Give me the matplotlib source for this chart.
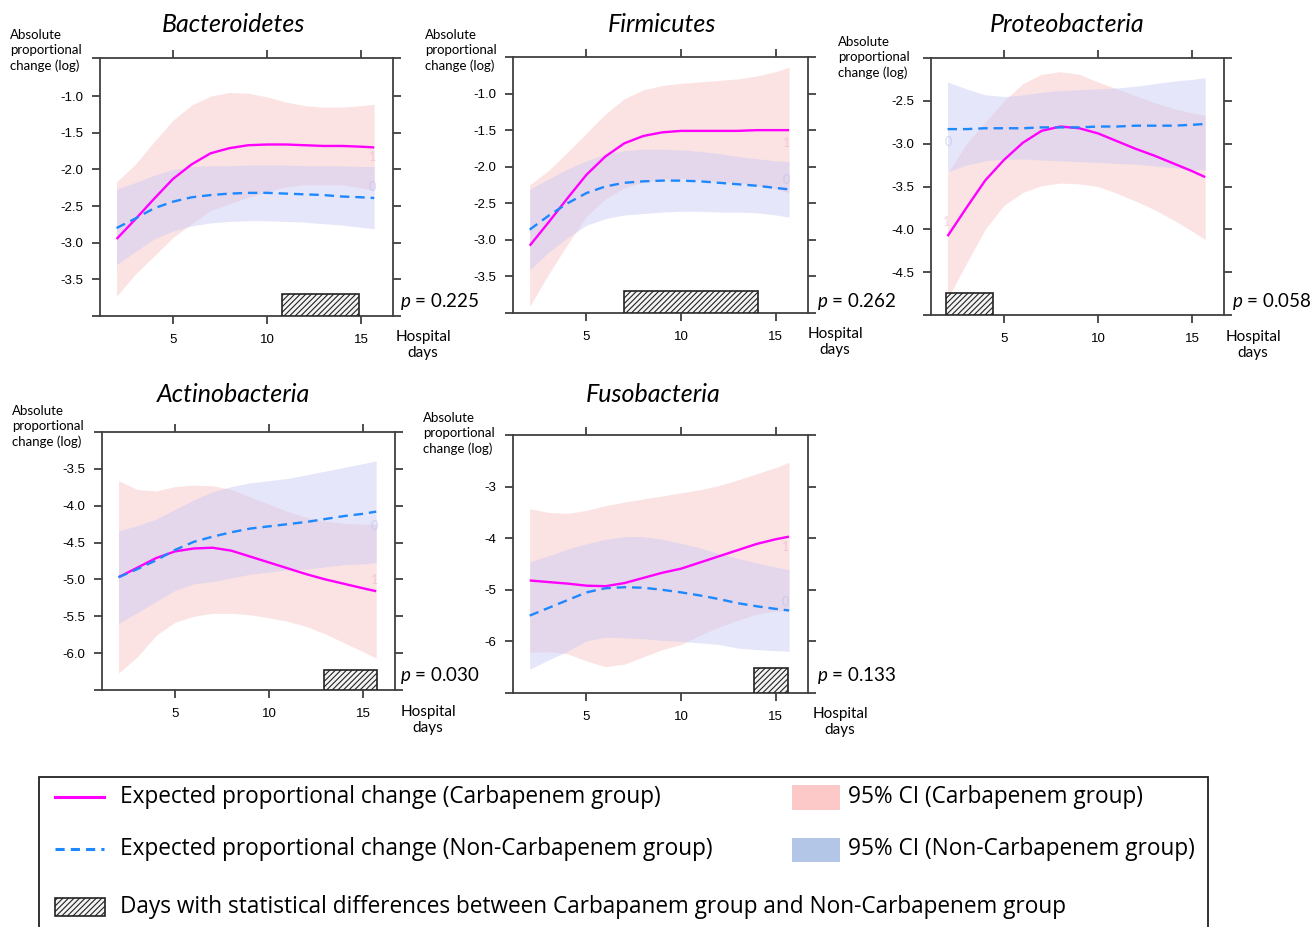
import numpy as np
import matplotlib
matplotlib.use("Agg")
import matplotlib.pyplot as plt
from matplotlib.lines import Line2D
from matplotlib.patches import Rectangle
import matplotlib.transforms as mtransforms

plt.rcParams['font.family'] = ['Lato', 'DejaVu Sans']
plt.rcParams['mathtext.fontset'] = 'custom'
plt.rcParams['mathtext.it'] = 'Lato:italic'
plt.rcParams['mathtext.rm'] = 'Lato'
plt.rcParams['hatch.linewidth'] = 0.8

W, H = 1312, 927

days = [2, 3, 4, 5, 6, 7, 8, 9, 10, 11, 12, 13, 14, 15, 15.7]

# Bacteroidetes
bac_carb = [-2.95, -2.68, -2.40, -2.13, -1.93, -1.78, -1.71, -1.67, -1.66, -1.66, -1.67, -1.68, -1.68, -1.69, -1.70]
bac_carb_hi = [-2.17, -1.93, -1.62, -1.33, -1.12, -1.00, -0.95, -0.96, -1.01, -1.08, -1.13, -1.15, -1.15, -1.13, -1.11]
bac_carb_lo = [-3.73, -3.43, -3.18, -2.93, -2.74, -2.56, -2.47, -2.38, -2.31, -2.24, -2.21, -2.21, -2.21, -2.25, -2.29]
bac_non = [-2.80, -2.67, -2.53, -2.44, -2.38, -2.35, -2.33, -2.32, -2.32, -2.33, -2.34, -2.35, -2.37, -2.38, -2.39]
bac_non_hi = [-2.27, -2.18, -2.08, -2.00, -1.96, -1.95, -1.95, -1.94, -1.94, -1.94, -1.95, -1.95, -1.95, -1.96, -1.96]
bac_non_lo = [-3.30, -3.12, -2.95, -2.84, -2.77, -2.73, -2.71, -2.70, -2.70, -2.71, -2.72, -2.74, -2.76, -2.79, -2.81]

# Firmicutes
fir_carb = [-3.08, -2.76, -2.43, -2.11, -1.86, -1.68, -1.58, -1.53, -1.51, -1.51, -1.51, -1.51, -1.50, -1.50, -1.50]
fir_carb_hi = [-2.25, -2.05, -1.80, -1.54, -1.28, -1.07, -0.95, -0.89, -0.86, -0.84, -0.82, -0.80, -0.76, -0.70, -0.64]
fir_carb_lo = [-3.91, -3.47, -3.06, -2.68, -2.44, -2.29, -2.21, -2.17, -2.16, -2.18, -2.20, -2.22, -2.26, -2.30, -2.36]
fir_non = [-2.86, -2.67, -2.50, -2.36, -2.27, -2.22, -2.20, -2.19, -2.19, -2.20, -2.22, -2.24, -2.26, -2.29, -2.31]
fir_non_hi = [-2.31, -2.17, -2.03, -1.92, -1.83, -1.78, -1.76, -1.76, -1.77, -1.79, -1.82, -1.86, -1.89, -1.92, -1.93]
fir_non_lo = [-3.41, -3.17, -2.97, -2.80, -2.71, -2.66, -2.64, -2.62, -2.61, -2.61, -2.62, -2.62, -2.63, -2.66, -2.69]

# Proteobacteria
pro_carb = [-4.08, -3.75, -3.43, -3.19, -2.99, -2.85, -2.80, -2.82, -2.88, -2.97, -3.06, -3.14, -3.23, -3.32, -3.39]
pro_carb_hi = [-3.35, -3.00, -2.75, -2.50, -2.30, -2.19, -2.16, -2.19, -2.28, -2.36, -2.44, -2.52, -2.59, -2.64, -2.67]
pro_carb_lo = [-4.81, -4.40, -4.00, -3.72, -3.57, -3.49, -3.46, -3.47, -3.50, -3.58, -3.67, -3.77, -3.89, -4.02, -4.12]
pro_non = [-2.83, -2.83, -2.82, -2.82, -2.82, -2.81, -2.81, -2.81, -2.80, -2.80, -2.79, -2.79, -2.79, -2.78, -2.77]
pro_non_hi = [-2.28, -2.36, -2.43, -2.45, -2.43, -2.40, -2.38, -2.37, -2.36, -2.35, -2.33, -2.30, -2.27, -2.25, -2.23]
pro_non_lo = [-3.33, -3.25, -3.20, -3.18, -3.18, -3.19, -3.20, -3.21, -3.22, -3.23, -3.24, -3.26, -3.28, -3.30, -3.31]

# Actinobacteria
act_carb = [-4.97, -4.84, -4.71, -4.62, -4.58, -4.57, -4.61, -4.69, -4.77, -4.85, -4.93, -5.00, -5.06, -5.12, -5.16]
act_carb_hi = [-3.66, -3.78, -3.80, -3.74, -3.72, -3.73, -3.78, -3.88, -3.98, -4.08, -4.16, -4.21, -4.24, -4.25, -4.25]
act_carb_lo = [-6.27, -6.05, -5.76, -5.58, -5.50, -5.46, -5.46, -5.48, -5.52, -5.57, -5.64, -5.74, -5.86, -5.98, -6.07]
act_non = [-4.97, -4.86, -4.74, -4.60, -4.49, -4.42, -4.36, -4.31, -4.28, -4.25, -4.22, -4.18, -4.14, -4.11, -4.08]
act_non_hi = [-4.34, -4.27, -4.18, -4.05, -3.92, -3.81, -3.74, -3.69, -3.66, -3.63, -3.58, -3.53, -3.48, -3.43, -3.39]
act_non_lo = [-5.60, -5.45, -5.30, -5.15, -5.06, -5.03, -4.98, -4.93, -4.90, -4.87, -4.86, -4.83, -4.80, -4.79, -4.77]

# Fusobacteria
fus_carb = [-4.82, -4.85, -4.88, -4.92, -4.93, -4.87, -4.77, -4.67, -4.59, -4.47, -4.35, -4.23, -4.11, -4.02, -3.97]
fus_carb_hi = [-3.43, -3.50, -3.52, -3.46, -3.37, -3.30, -3.24, -3.18, -3.12, -3.06, -2.98, -2.87, -2.75, -2.63, -2.53]
fus_carb_lo = [-6.21, -6.20, -6.24, -6.38, -6.49, -6.44, -6.30, -6.16, -6.06, -5.88, -5.72, -5.59, -5.47, -5.41, -5.41]
fus_non = [-5.50, -5.35, -5.20, -5.05, -4.97, -4.95, -4.96, -5.00, -5.05, -5.11, -5.18, -5.26, -5.32, -5.37, -5.40]
fus_non_hi = [-4.46, -4.34, -4.21, -4.11, -4.02, -3.97, -3.97, -4.02, -4.10, -4.19, -4.30, -4.39, -4.48, -4.56, -4.61]
fus_non_lo = [-6.54, -6.36, -6.19, -5.99, -5.92, -5.93, -5.95, -5.98, -6.00, -6.03, -6.06, -6.13, -6.16, -6.18, -6.19]

titles = ['Bacteroidetes', 'Firmicutes', 'Proteobacteria', 'Actinobacteria', 'Fusobacteria']
p_values = ['0.225', '0.262', '0.058', '0.030', '0.133']
sig_days = [(10.8, 14.9), (7.0, 14.05), (1.9, 4.4), (12.9, 15.75), (13.85, 15.65)]
ylims = [(-4.0, -0.48), (-4.0, -0.5), (-5.0, -2.0), (-6.5, -3.0), (-7.0, -2.0)]
yticks = [[-3.5, -3.0, -2.5, -2.0, -1.5, -1.0],
          [-3.5, -3.0, -2.5, -2.0, -1.5, -1.0],
          [-4.5, -4.0, -3.5, -3.0, -2.5],
          [-6.0, -5.5, -5.0, -4.5, -4.0, -3.5],
          [-6, -5, -4, -3]]

series = [
    (bac_carb, bac_carb_lo, bac_carb_hi, bac_non, bac_non_lo, bac_non_hi),
    (fir_carb, fir_carb_lo, fir_carb_hi, fir_non, fir_non_lo, fir_non_hi),
    (pro_carb, pro_carb_lo, pro_carb_hi, pro_non, pro_non_lo, pro_non_hi),
    (act_carb, act_carb_lo, act_carb_hi, act_non, act_non_lo, act_non_hi),
    (fus_carb, fus_carb_lo, fus_carb_hi, fus_non, fus_non_lo, fus_non_hi),
]

# panel boxes in pixels: left, right, top, bottom
boxes = [(100, 393, 58, 316), (513, 808, 57, 313), (931, 1224, 58, 315),
         (102, 395, 432, 690), (513, 808, 435, 693)]
hatch_h = [0.085, 0.085, 0.085, 0.078, 0.097]

# faint leftover group labels ('1' carbapenem, '0' non-carbapenem)
ghost = [[(15.6, -1.83, '1'), (15.6, -2.24, '0')],
         [(15.57, -1.68, '1'), (15.57, -2.18, '0')],
         [(1.95, -3.91, '1'), (2.06, -2.98, '0')],
         [(15.6, -5.01, '1'), (15.6, -4.27, '0')],
         [(15.5, -4.17, '1'), (15.5, -5.24, '0')]]

MAG = '#ff00ff'
BLU = '#1e88ff'
PINK_FILL = '#f8c8c8'
BLUE_FILL = '#c8c8f5'
FRAME = '#404040'


def fx(x):
    return x / W


def fy(y):
    return 1 - y / H


fig = plt.figure(figsize=(W / 100, H / 100), dpi=100)

for i in range(5):
    l, r, t, b = boxes[i]
    ax = fig.add_axes([fx(l), fy(b), (r - l) / W, (b - t) / H])
    carb, carb_lo, carb_hi, non, non_lo, non_hi = series[i]

    ax.fill_between(days, carb_lo, carb_hi, color=PINK_FILL, alpha=0.5, lw=0)
    ax.fill_between(days, non_lo, non_hi, color=BLUE_FILL, alpha=0.45, lw=0)
    ax.plot(days, carb, color=MAG, lw=1.7, solid_capstyle='butt')
    ax.plot(days, non, color=BLU, lw=1.7, ls=(0, (4, 2.5)))

    for gx, gy, gs in ghost[i]:
        ax.text(gx, gy, gs, color='#f0b4c4' if gs == '1' else '#b8c2ee',
                fontsize=9, ha='center', va='center', alpha=0.6)

    trans = mtransforms.blended_transform_factory(ax.transData, ax.transAxes)
    d0, d1 = sig_days[i]
    ax.add_patch(Rectangle((d0, 0), d1 - d0, hatch_h[i], transform=trans,
                           facecolor='#f4f4f4', edgecolor='#222222', hatch='//////',
                           lw=1.2, zorder=5))

    ax.set_xlim(1.12, 16.7)
    ylo, yhi = ylims[i]
    ax.set_ylim(ylo, yhi)
    ax.set_xticks([5, 10, 15])
    ax.set_xticklabels(['5', '10', '15'], family='Liberation Sans', fontsize=9.5)
    yt = yticks[i]
    ax.set_yticks([ylo] + yt + [yhi])
    labels = [''] + [('%.1f' % v) if i < 4 else ('%d' % v) for v in yt] + ['']
    ax.set_yticklabels(labels, family='Liberation Sans', fontsize=9.5)
    ax.tick_params(axis='both', direction='out', length=6, width=1.3, color=FRAME,
                   top=True, right=True, labeltop=False, labelright=False)
    ax.tick_params(axis='x', pad=7)
    ax.tick_params(axis='y', pad=6)
    for s in ax.spines.values():
        s.set_color(FRAME)
        s.set_linewidth(1.3)

# titles, axis captions and p values (pixel positions)
title_pos = [(233, 25), (662, 25), (1067, 25), (233, 395), (653, 395)]
ylab_pos = [(10, 29), (425, 29), (838, 36), (12, 405), (423, 412)]
hosp_pos = [(423, 345), (835, 342), (1253, 345), (428, 720), (840, 722)]
p_pos = [(400, 302), (817, 301), (1232, 302), (400, 675), (817, 675)]

for i in range(5):
    fig.text(fx(title_pos[i][0]), fy(title_pos[i][1]), titles[i], fontsize=18,
             style='italic', ha='center', va='center')
    fig.text(fx(ylab_pos[i][0]), fy(ylab_pos[i][1]), 'Absolute\nproportional\nchange (log)',
             fontsize=9.5, ha='left', va='top', linespacing=1.3)
    fig.text(fx(hosp_pos[i][0]), fy(hosp_pos[i][1]), 'Hospital\ndays', fontsize=11,
             ha='center', va='center', linespacing=1.2)
    fig.text(fx(p_pos[i][0]), fy(p_pos[i][1]), r'$p$ = ' + p_values[i], fontsize=13.5,
             ha='left', va='center')

# legend box drawn in figure pixels
fig.add_artist(Rectangle((fx(39), fy(940)), (1208 - 39) / W, (940 - 777) / H,
                         transform=fig.transFigure, facecolor='none', edgecolor='#222222',
                         lw=1.3))
fig.add_artist(Line2D([fx(55), fx(104)], [fy(797), fy(797)], color=MAG, lw=2.2,
                      transform=fig.transFigure))
fig.add_artist(Line2D([fx(55), fx(104)], [fy(849), fy(849)], color=BLU, lw=2.2,
                      ls=(0, (3, 2)), transform=fig.transFigure))
fig.add_artist(Rectangle((fx(55), fy(916)), 50 / W, 18 / H, transform=fig.transFigure,
                         facecolor='#f4f4f4', edgecolor='#222222', hatch='//////', lw=1.2))
fig.add_artist(Rectangle((fx(792), fy(810)), 48 / W, 25 / H, transform=fig.transFigure,
                         facecolor='#fcc8c8', edgecolor='none'))
fig.add_artist(Rectangle((fx(792), fy(862)), 48 / W, 24 / H, transform=fig.transFigure,
                         facecolor='#b4c6e7', edgecolor='none'))

leg_font = dict(fontsize=16.3, family=['Open Sans', 'DejaVu Sans'], ha='left', va='center')
fig.text(fx(120), fy(797), 'Expected proportional change (Carbapenem group)', **leg_font)
fig.text(fx(120), fy(849), 'Expected proportional change (Non-Carbapenem group)', **leg_font)
fig.text(fx(848), fy(797), '95% CI (Carbapenem group)', **leg_font)
fig.text(fx(848), fy(849), '95% CI (Non-Carbapenem group)', **leg_font)
fig.text(fx(120), fy(907),
         'Days with statistical differences between Carbapanem group and Non-Carbapenem group',
         **leg_font)

fig.savefig('out.png', dpi=100)
